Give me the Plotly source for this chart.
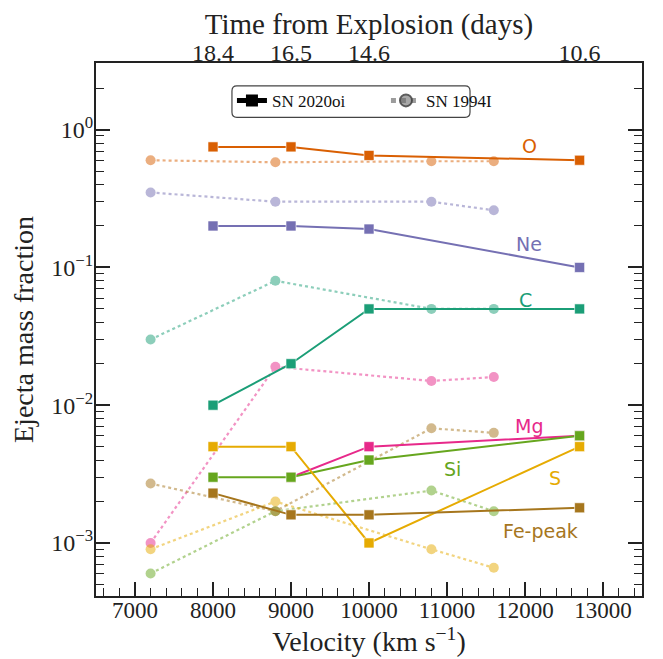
import numpy as np
import plotly.graph_objects as go

# ---------------- data ----------------
v_2020oi = [8000, 9000, 10000, 12700]
v_1994I = [7200, 8800, 10800, 11600]
time_labels = ["18.4", "16.5", "14.6", "10.6"]
velocity_ticks = [7000, 8000, 9000, 10000, 11000, 12000, 13000]
velocity_labels = ["7000", "8000", "9000", "10000", "11000", "12000", "13000"]

elements = ["O", "Ne", "C", "Mg", "Si", "S", "Fe-peak"]
colors = ["#d95f02", "#7570b3", "#1b9e77", "#e7298a", "#66a61e", "#e6ab02", "#a6761d"]

O_2020oi = [0.75, 0.75, 0.65, 0.60]
Ne_2020oi = [0.20, 0.20, 0.19, 0.10]
C_2020oi = [0.010, 0.020, 0.050, 0.050]
Mg_2020oi = [None, 0.003, 0.005, 0.006]
Si_2020oi = [0.003, 0.003, 0.004, 0.006]
S_2020oi = [0.005, 0.005, 0.001, 0.005]
Fe_2020oi = [0.0023, 0.0016, 0.0016, 0.0018]

O_1994I = [0.60, 0.58, 0.59, 0.59]
Ne_1994I = [0.35, 0.30, 0.30, 0.26]
C_1994I = [0.030, 0.080, 0.050, 0.050]
Mg_1994I = [0.0010, 0.019, 0.015, 0.016]
Si_1994I = [0.0006, 0.0017, 0.0024, 0.0017]
S_1994I = [0.0009, 0.0020, 0.0009, 0.00066]
Fe_1994I = [0.0027, 0.0017, 0.0068, 0.0063]

# label positions (velocity, mass fraction)
label_x = [12060, 12050, 12000, 12050, 11070, 12390, 12200]
label_y = [0.766, 0.148, 0.0583, 0.00703, 0.00345, 0.00296, 0.00122]

series_2020oi = [O_2020oi, Ne_2020oi, C_2020oi, Mg_2020oi, Si_2020oi, S_2020oi, Fe_2020oi]
series_1994I = [O_1994I, Ne_1994I, C_1994I, Mg_1994I, Si_1994I, S_1994I, Fe_1994I]

SERIF = "'Liberation Serif', 'DejaVu Serif', serif"
SANS = "'DejaVu Sans', sans-serif"

fig = go.Figure()

for name, col, vals in zip(elements, colors, series_1994I):
    fig.add_trace(go.Scatter(
        x=v_1994I, y=vals, mode="lines+markers", opacity=0.5,
        line=dict(color=col, width=2.2, dash="dot"),
        marker=dict(symbol="circle", size=10, color=col),
        showlegend=False, hoverinfo="skip"))

for name, col, vals in zip(elements, colors, series_2020oi):
    fig.add_trace(go.Scatter(
        x=v_2020oi, y=vals, mode="lines+markers",
        line=dict(color=col, width=2),
        marker=dict(symbol="square", size=10, color=col, line=dict(color="white", width=0.6)),
        showlegend=False, hoverinfo="skip"))

fig.add_trace(go.Scatter(x=[None], y=[None], mode="lines+markers", name="SN 2020oi",
                         line=dict(color="black", width=2),
                         marker=dict(symbol="square", size=10, color="black")))
fig.add_trace(go.Scatter(x=[None], y=[None], mode="lines+markers", name="SN 1994I",
                         line=dict(color="rgba(90,90,90,0.6)", width=2, dash="dot"),
                         marker=dict(symbol="circle", size=10, color="rgba(110,110,110,0.6)",
                                     line=dict(color="rgba(60,60,60,0.8)", width=1.2))))
fig.add_trace(go.Scatter(x=[None], y=[None], xaxis="x2", showlegend=False, hoverinfo="skip"))

for name, col, lx, ly in zip(elements, colors, label_x, label_y):
    fig.add_annotation(x=lx, y=np.log10(ly), xref="x", yref="y", text=name, showarrow=False,
                       font=dict(family=SANS, size=19, color=col))

xr = [6500, 13500]
yr = [-3.385, 0.484]

minor_y = [m * 10.0 ** k for k in range(-4, 1) for m in range(2, 10)]
minor_y = [v for v in minor_y if 10 ** yr[0] <= v <= 10 ** yr[1]]

# page body has an 8px default margin: figure sized to fit the 663x659 window
fig.update_layout(
    width=655, height=651,
    margin=dict(l=88, r=21, t=55, b=63),
    plot_bgcolor="white", paper_bgcolor="white",
    font=dict(family=SERIF, size=23, color="#222"),
    xaxis=dict(range=xr, showline=True, linecolor="#222", linewidth=2, mirror=True,
               ticks="inside", ticklen=14, tickwidth=1.5, tickcolor="#222",
               tickmode="array", tickvals=velocity_ticks, ticktext=velocity_labels,
               minor=dict(ticks="inside", ticklen=8, tickwidth=1.2, tickcolor="#222",
                          tickmode="array", tickvals=list(range(6600, 13401, 200))),
               showgrid=False, zeroline=False, automargin=False, ticklabelstandoff=-8,
               tickfont=dict(family=SERIF, size=23),
               title=dict(text="Velocity (km s<sup>−1</sup>)", font=dict(family=SERIF, size=28), standoff=2)),
    xaxis2=dict(range=xr, overlaying="x", side="top", showline=False, showgrid=False, zeroline=False,
                ticks="", tickmode="array", tickvals=v_2020oi, ticktext=time_labels, automargin=False,
                ticklabelstandoff=-4,
                tickfont=dict(family=SERIF, size=24),
                title=dict(text="Time from Explosion (days)", font=dict(family=SERIF, size=29), standoff=12)),
    yaxis=dict(type="log", range=yr, showline=True, linecolor="#222", linewidth=2, mirror="ticks",
               ticks="inside", ticklen=14, tickwidth=1.5, tickcolor="#222",
               tickmode="array", tickvals=[1e-3, 1e-2, 1e-1, 1],
               ticktext=["10<sup>−3</sup>", "10<sup>−2</sup>", "10<sup>−1</sup>", "10<sup>0</sup>"],
               minor=dict(ticks="inside", ticklen=8, tickwidth=1.2, tickcolor="#222",
                          tickmode="array", tickvals=minor_y),
               showgrid=False, zeroline=False, automargin=False, ticklabelstandoff=-4,
               tickfont=dict(family=SERIF, size=24),
               title=dict(text="Ejecta mass fraction", font=dict(family=SERIF, size=28), standoff=10)),
    legend=dict(orientation="h", x=0.249, y=0.929, xanchor="left", yanchor="middle",
                bgcolor="rgba(255,255,255,0)", borderwidth=0, entrywidth=109,
                font=dict(family=SERIF, size=17, color="#111"), itemsizing="constant"),
    showlegend=True,
)

x0, x1, y0, y1 = 0.249, 0.685, 0.898, 0.957
rx, ry = 0.009, 0.0095
path = (f"M {x0+rx},{y1} L {x1-rx},{y1} Q {x1},{y1} {x1},{y1-ry} L {x1},{y0+ry} "
        f"Q {x1},{y0} {x1-rx},{y0} L {x0+rx},{y0} Q {x0},{y0} {x0},{y0+ry} "
        f"L {x0},{y1-ry} Q {x0},{y1} {x0+rx},{y1} Z")
fig.add_shape(type="path", path=path, xref="paper", yref="paper",
              line=dict(color="#444", width=1.2), fillcolor="white", layer="above")

fig.write_html("out.html")
